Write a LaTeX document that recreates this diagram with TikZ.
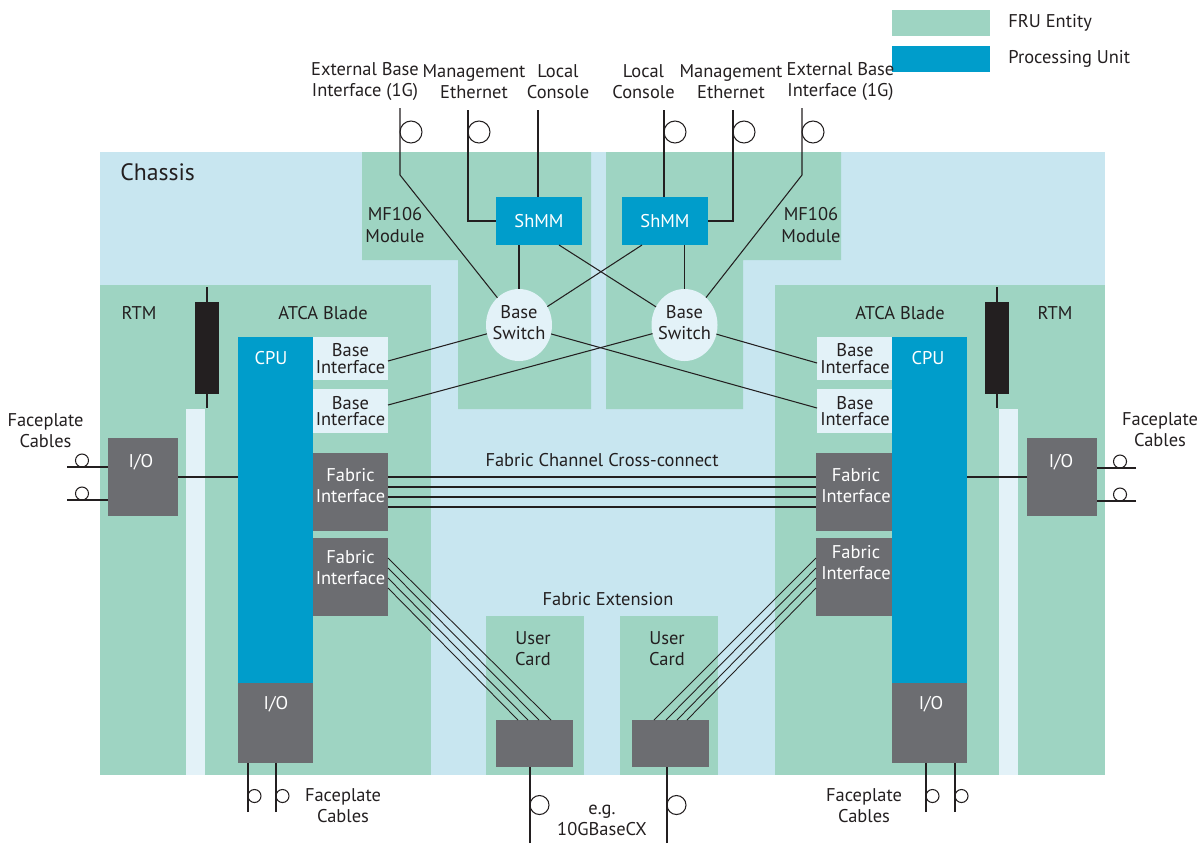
\documentclass[tikz,border=0pt]{standalone}
\usepackage{fontspec}
\setmainfont{PT Sans}
\usepackage{xcolor}
\definecolor{atca_fru}{RGB}{158, 212, 194}
\definecolor{atca_chassis}{RGB}{200, 230, 240}
\definecolor{atca_cpu}{RGB}{0, 157, 203}
\definecolor{atca_grey}{RGB}{108, 109, 113}
\definecolor{atca_pale}{RGB}{227, 242, 248}
\definecolor{atca_ink}{RGB}{35, 31, 32}
\usepackage{tikz}
\usetikzlibrary{shapes.geometric, calc}

\begin{document}
\begin{tikzpicture}[x=0.02cm, y=-0.02cm,
    lbl/.style={font=\fontsize{10.5}{12}\selectfont, text=atca_ink, align=center, inner sep=0pt},
    wlbl/.style={lbl, text=white},
    box/.style 2 args={minimum width=#1*0.02cm, minimum height=#2*0.02cm, inner sep=0pt, outer sep=0pt},
    wire/.style={draw=atca_ink, line width=0.6pt}]
  \useasboundingbox (0,0) rectangle (1202,843);

  % Legend
  \node[box={98}{26}, fill=atca_fru] (keyfru) at (941,23) {};
  \node[lbl, anchor=west] (keyfrutxt) at (1008,23) {FRU Entity};
  \node[box={98}{26}, fill=atca_cpu] (keycpu) at (941,59) {};
  \node[lbl, anchor=west] (keycputxt) at (1008,59) {Processing Unit};

  % Chassis, FRU areas
  \fill[atca_chassis] (100,152) rectangle (1105,775);
  \node[lbl, font=\fontsize{13.5}{16}\selectfont, anchor=west] (chassis) at (120,172) {Chassis};
  \fill[atca_fru] (362,152) -- (591,152) -- (591,409) -- (458,409) -- (458,260) -- (362,260) -- cycle;
  \fill[atca_fru] (606,152) -- (841,152) -- (841,260) -- (743,260) -- (743,409) -- (606,409) -- cycle;
  \fill[atca_fru] (100,285) rectangle (431,775);
  \fill[atca_fru] (775,285) rectangle (1105,775);
  \fill[atca_fru] (486,616) rectangle (584,775);
  \fill[atca_fru] (620,616) rectangle (718,775);
  \fill[atca_pale] (186,409) rectangle (205,775);
  \fill[atca_pale] (999,409) rectangle (1018,775);

  % Backplane connectors
  \draw[wire] (207,287) -- (207,408);
  \fill[atca_ink] (195,302) rectangle (219,394);
  \draw[wire] (997,287) -- (997,408);
  \fill[atca_ink] (985,302) rectangle (1009,394);

  % Texts of the areas
  \node[lbl] (mfLtxt) at (395,225) {MF106\\Module};
  \node[lbl] (mfRtxt) at (811,225) {MF106\\Module};
  \node[lbl] (rtmL) at (139,313) {RTM};
  \node[lbl] (bladeL) at (323,313) {ATCA Blade};
  \node[lbl] (bladeR) at (900,313) {ATCA Blade};
  \node[lbl] (rtmR) at (1055,313) {RTM};
  \node[lbl] (xconn) at (602,460) {Fabric Channel Cross-connect};
  \node[lbl] (fabext) at (608,599) {Fabric Extension};
  \node[lbl] (ucLtxt) at (533,649) {User\\Card};
  \node[lbl] (ucRtxt) at (667,649) {User\\Card};

  % Shelf management
  \node[box={86}{48}, fill=atca_cpu, wlbl] (shmmL) at (539,221) {ShMM};
  \node[box={86}{48}, fill=atca_cpu, wlbl] (shmmR) at (665,221) {ShMM};
  \node[ellipse, box={66}{72}, fill=atca_pale] (swL) at (519,325) {};
  \node[lbl] (swLtxt) at (519,323) {Base\\Switch};
  \node[ellipse, box={66}{72}, fill=atca_pale] (swR) at (684.5,325) {};
  \node[lbl] (swRtxt) at (684.5,323) {Base\\Switch};

  % Left blade
  \node[box={75}{43}, fill=atca_pale, lbl, font=\fontsize{10.5}{9.5}\selectfont] (biL1) at (350.5,358.5) {Base\\Interface};
  \node[box={75}{44}, fill=atca_pale, lbl, font=\fontsize{10.5}{9.5}\selectfont] (biL2) at (350.5,411) {Base\\Interface};
  \node[box={75}{78}, fill=atca_grey] (fabL1) at (350.5,492) {};
  \node[wlbl] (fabL1txt) at (350.5,485.5) {Fabric\\Interface};
  \node[box={75}{78}, fill=atca_grey] (fabL2) at (350.5,577) {};
  \node[wlbl] (fabL2txt) at (350.5,568) {Fabric\\Interface};
  \node[box={75}{346}, fill=atca_cpu] (cpuL) at (275.5,510) {};
  \node[wlbl] (cpuLtxt) at (271,358) {CPU};
  \node[box={75}{80}, fill=atca_grey] (ioBL) at (275.5,723) {};
  \node[wlbl] (ioBLtxt) at (276,704) {I/O};
  \node[box={70}{78}, fill=atca_grey] (ioL) at (143,477) {};
  \node[wlbl] (ioLtxt) at (141,462) {I/O};

  % Right blade
  \node[box={76}{43}, fill=atca_pale, lbl, font=\fontsize{10.5}{9.5}\selectfont] (biR1) at (855,358.5) {Base\\Interface};
  \node[box={76}{44}, fill=atca_pale, lbl, font=\fontsize{10.5}{9.5}\selectfont] (biR2) at (855,411) {Base\\Interface};
  \node[box={76}{78}, fill=atca_grey] (fabR1) at (854,492) {};
  \node[wlbl] (fabR1txt) at (856,485.5) {Fabric\\Interface};
  \node[box={76}{78}, fill=atca_grey] (fabR2) at (854,577) {};
  \node[wlbl] (fabR2txt) at (856,563) {Fabric\\Interface};
  \node[box={75}{346}, fill=atca_cpu] (cpuR) at (929.5,510) {};
  \node[wlbl] (cpuRtxt) at (928,358) {CPU};
  \node[box={75}{80}, fill=atca_grey] (ioBR) at (929.5,723) {};
  \node[wlbl] (ioBRtxt) at (931,704) {I/O};
  \node[box={70}{78}, fill=atca_grey] (ioR) at (1062,477) {};
  \node[wlbl] (ioRtxt) at (1061,462) {I/O};

  % User cards
  \node[box={77}{47}, fill=atca_grey] (ucL) at (534.5,743.5) {};
  \node[box={77}{47}, fill=atca_grey] (ucR) at (670.5,743.5) {};

  % Top cables
  \node[lbl] (extLtxt) at (365,81.5) {External Base\\Interface (1G)};
  \node[lbl] (mgmtLtxt) at (474,81.5) {Management\\Ethernet};
  \node[lbl] (conLtxt) at (558,81.5) {Local\\Console};
  \node[lbl] (conRtxt) at (643.5,81.5) {Local\\Console};
  \node[lbl] (mgmtRtxt) at (731,81.5) {Management\\Ethernet};
  \node[lbl] (extRtxt) at (840.5,81.5) {External Base\\Interface (1G)};
  \coordinate (extLtop) at (400,108);
  \coordinate (mgmtLtop) at (468,110);
  \coordinate (conLtop) at (538,110);
  \coordinate (conRtop) at (664,110);
  \coordinate (mgmtRtop) at (733,110);
  \coordinate (extRtop) at (802,108);
  \draw[wire] (extLtop) -- (400,175) -- (swL);
  \draw[wire] (mgmtLtop) |- (shmmL.west);
  \draw[wire] (conLtop) -- (conLtop |- shmmL.north);
  \draw[wire] (conRtop) -- (conRtop |- shmmR.north);
  \draw[wire] (mgmtRtop) |- (shmmR.east);
  \draw[wire] (extRtop) -- (802,175) -- (swR);
  \foreach \cx in {411,479,675,744,813}
    { \draw[wire] (\cx,132) circle[radius=0.22cm]; }

  % ShMM to Base Switch
  \draw[wire] (shmmL.south -| swL.north) -- (swL.north);
  \draw[wire] ($(shmmL.south)+(20,0)$) -- (swR);
  \draw[wire] ($(shmmR.south)+(-23,0)$) -- (swL);
  \draw[wire] (shmmR.south -| swR.north) -- (swR.north);

  % Base Switch to Base Interface
  \draw[wire] (swL) -- ($(biL1.east)+(0,2.5)$);
  \draw[wire] (swR) -- ($(biL2.east)+(0,-6)$);
  \draw[wire] (swL) -- ($(biR2.west)+(0,-3)$);
  \draw[wire] (swR) -- ($(biR1.west)+(0,4.5)$);

  % Fabric cross-connect and extension
  \foreach \dy in {-15,-5,5,15}
    { \draw[wire] ($(fabL1.east)+(0,\dy)$) -- ($(fabR1.west)+(0,\dy)$); }
  \foreach \dy/\dx in {-19/16.5,-9/4.5,1/-6.5,11/-16.5}
    { \draw[wire, line width=0.5pt] ($(fabL2.east)+(0,\dy)$) -- ($(ucL.north)+(\dx,0)$);
      \draw[wire, line width=0.5pt] ($(fabR2.west)+(0,\dy)$) -- ($(ucR.north)+(-\dx,0)$); }

  % RTM I/O to CPU
  \draw[wire] (ioL.east) -- (ioL.east -| cpuL.west);
  \draw[wire] (ioR.west) -- (ioR.west -| cpuR.east);

  % Faceplate cables, sides
  \node[lbl] (fpLtxt) at (45.5,430.5) {Faceplate\\Cables};
  \node[lbl] (fpRtxt) at (1160,430) {Faceplate\\Cables};
  \foreach \y in {467,500}
    { \coordinate (fpL\y) at (67,\y);
      \draw[wire] (fpL\y) -- (fpL\y -| ioL.west);
      \draw[wire] (82,\y-6.5) circle[radius=0.13cm]; }
  \foreach \y in {468,501}
    { \coordinate (fpR\y) at (1136,\y);
      \draw[wire] (fpR\y) -- (fpR\y -| ioR.east);
      \draw[wire] (1120,\y-6.5) circle[radius=0.13cm]; }

  % Faceplate cables, bottom
  \node[lbl] (fpBLtxt) at (343,805.5) {Faceplate\\Cables};
  \node[lbl] (fpBRtxt) at (864,805.5) {Faceplate\\Cables};
  \foreach \x in {248,276}
    { \coordinate (fpB\x) at (\x,812);
      \draw[wire] (fpB\x) -- (fpB\x |- ioBL.south);
      \draw[wire] (\x+6.5,796) circle[radius=0.13cm]; }
  \foreach \x in {926,955}
    { \coordinate (fpB\x) at (\x,812);
      \draw[wire] (fpB\x) -- (fpB\x |- ioBR.south);
      \draw[wire] (\x+6.5,796) circle[radius=0.13cm]; }

  % User card cables
  \node[lbl] (egtxt) at (602,820) {e.g.\\10GBaseCX};
  \coordinate (ucLend) at (530,843);
  \coordinate (ucRend) at (667,843);
  \draw[wire] (ucLend) -- (ucLend |- ucL.south);
  \draw[wire] (ucRend) -- (ucRend |- ucR.south);
  \draw[wire] (539.5,805) circle[radius=0.19cm];
  \draw[wire] (676.5,805) circle[radius=0.19cm];
\end{tikzpicture}
\end{document}
